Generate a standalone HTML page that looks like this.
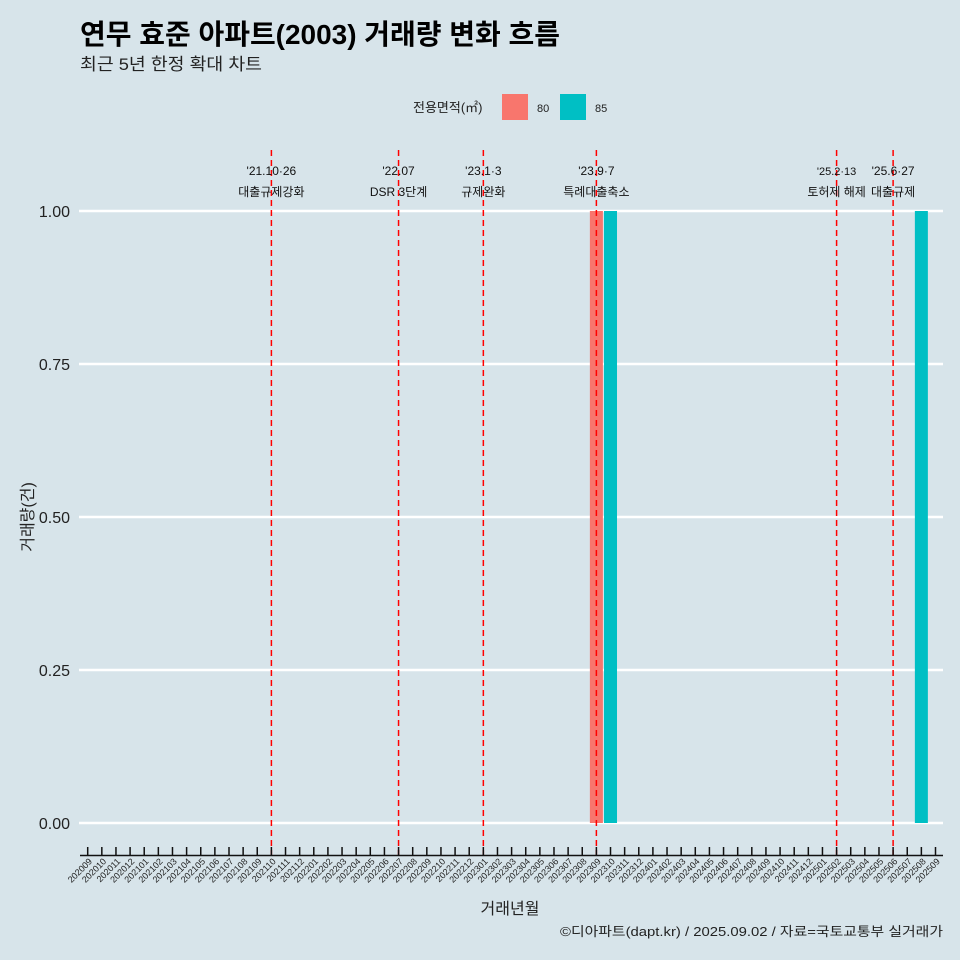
<!DOCTYPE html>
<html><head><meta charset="utf-8"><style>
body{margin:0;background:#d7e4ea;}
svg{display:block;font-family:"Liberation Sans","Noto Sans CJK KR",sans-serif;}
</style></head><body>
<svg id="c" width="960" height="960" xmlns="http://www.w3.org/2000/svg">
<rect width="960" height="960" fill="#d7e4ea"/>
<text x="80" y="44" font-size="28" font-weight="bold" fill="#000" textLength="480" lengthAdjust="spacingAndGlyphs">연무 효준 아파트(2003) 거래량 변화 흐름</text>
<text x="80" y="70" font-size="17" fill="#222" textLength="182" lengthAdjust="spacingAndGlyphs">최근 5년 한정 확대 차트</text>
<g>
<text x="413" y="112" font-size="13" fill="#222">전용면적(㎡)</text>
<rect x="502" y="94" width="26" height="26" fill="#f8766d"/>
<text x="537" y="112" font-size="11" fill="#222">80</text>
<rect x="560" y="94" width="26" height="26" fill="#00bfc4"/>
<text x="595" y="112" font-size="11" fill="#222">85</text>
</g>
<g id="plot"></g>
<text x="510" y="914" font-size="16" text-anchor="middle" fill="#222">거래년월</text>
<text transform="translate(33,517) rotate(-90)" font-size="16" text-anchor="middle" fill="#222">거래량(건)</text>
<text x="943" y="936" font-size="13" text-anchor="end" fill="#222" textLength="383" lengthAdjust="spacingAndGlyphs">©디아파트(dapt.kr) / 2025.09.02 / 자료=국토교통부 실거래가</text>
</svg>
<script>
const months=[];for(let y=2020,m=9;!(y===2025&&m===10);){months.push(y+String(m).padStart(2,'0'));m++;if(m>12){m=1;y++;}}
const yTicks=[0,0.25,0.5,0.75,1.0];
const yTickLabels=["0.00","0.25","0.50","0.75","1.00"];
const series80=[{month:"202309",value:1}];
const series85=[{month:"202310",value:1},{month:"202508",value:1}];
const eventMonths=["202110","202207","202301","202309","202502","202506"];
const eventDates=["'21.10·26","'22.07","'23.1·3","'23.9·7","'25.2·13","'25.6·27"];
const eventLabels=["대출규제강화","DSR 3단계","규제완화","특례대출축소","토허제 해제","대출규제"];
const NS="http://www.w3.org/2000/svg";
const g=document.getElementById('plot');
const x0=87.7,step=14.13;
const xs=m=>x0+months.indexOf(m)*step;
const ys=v=>823-v*612;
function el(t,a){const e=document.createElementNS(NS,t);for(const k in a)e.setAttribute(k,a[k]);g.appendChild(e);return e;}
yTicks.forEach((v,i)=>{
 const l=el('line',{x1:79,x2:943,y1:ys(v),y2:ys(v),stroke:'#fff','stroke-width':2.5});
 
 
 const t=el('text',{x:70,y:ys(v)+6,'font-size':16,'text-anchor':'end',fill:'#222'});t.textContent=yTickLabels[i];
 
 
});
function bars(arr,color,name){arr.forEach(d=>{
 const r=el('rect',{x:xs(d.month)-6.5,y:ys(d.value),width:13,height:ys(0)-ys(d.value),fill:color});
 
 
});}
bars(series80,'#f8766d','bar-80');
bars(series85,'#00bfc4','bar-85');
eventMonths.forEach((m,i)=>{
 const x=xs(m);
 const l=el('line',{x1:x,x2:x,y1:150,y2:855,stroke:'#ff0000','stroke-width':1.5,'stroke-dasharray':'6,4'});
 
 
 const small=(i===4);
 const t1=el('text',{x:x,y:175,'font-size':small?11:12,'text-anchor':'middle',fill:'#111'});t1.textContent=eventDates[i];
 
 
 const t2=el('text',{x:x,y:196,'font-size':12,'text-anchor':'middle',fill:'#111'});t2.textContent=eventLabels[i];
 
 
});
const ax=el('line',{x1:80,x2:943,y1:855.5,y2:855.5,stroke:'#111','stroke-width':1.5});


months.forEach(m=>{
 const x=xs(m);
 const tk=el('line',{x1:x,x2:x,y1:847,y2:855,stroke:'#111','stroke-width':1.5});
 
 
 const t=el('text',{'font-size':9,'text-anchor':'end',fill:'#222',transform:`translate(${x+5},${862}) rotate(-45)`});t.textContent=m;
 
 
});
</script>
</body></html>
